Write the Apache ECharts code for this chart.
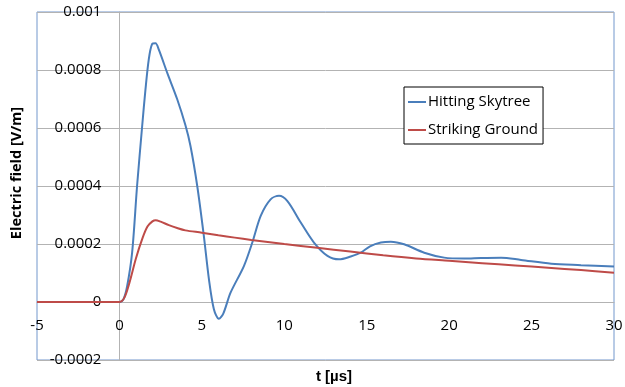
<!DOCTYPE html>
<html>
<head>
<meta charset="utf-8">
<script src="https://cdn.jsdelivr.net/npm/echarts@6/dist/echarts.min.js"></script>
<style>
  html, body { margin: 0; padding: 0; background: #fff; }
  #chart { width: 625px; height: 387px; }
</style>
</head>
<body>
<div id="chart"></div>
<script>
// Time axis in microseconds, field in V/m
const seriesNames = ['Hitting Skytree', 'Striking Ground'];

const tSkytree = [-5, 0, 0.25, 0.47, 0.77, 1.07, 1.38, 1.58, 1.78, 1.98, 2.19, 2.39, 2.9, 3.5, 4.0, 4.31, 4.72, 5.12, 5.43, 5.73, 6.03, 6.3, 6.74, 7.55, 8.06, 8.57, 9.17, 9.68, 10.19, 11.0, 11.8, 12.62, 13.32, 14.03, 14.64, 15.2, 15.86, 16.46, 17.27, 18.49, 19.7, 20.92, 21.93, 23.15, 24.36, 26.2, 28.0, 30];
const eSkytree = [0, 0, 0.00001, 0.000055, 0.00017, 0.0004, 0.000607, 0.000733, 0.000837, 0.000889, 0.000892, 0.00087, 0.00079, 0.0007, 0.00061, 0.000538, 0.0004, 0.000228, 0.000078, -0.000025, -0.000058, -0.00004, 0.000032, 0.000124, 0.000205, 0.000297, 0.000354, 0.000366, 0.000348, 0.000274, 0.000205, 0.000159, 0.000147, 0.000157, 0.00017, 0.000192, 0.000205, 0.000208, 0.000199, 0.00017, 0.000153, 0.00015, 0.000152, 0.000153, 0.000145, 0.000132, 0.000127, 0.000122];

const tGround = [-5, 0, 0.3, 0.6, 1.0, 1.4, 1.7, 2.0, 2.2, 2.5, 3.0, 3.5, 4, 5, 6, 7, 8, 9, 10, 12, 14, 16, 18, 20, 22, 24, 26, 28, 30];
const eGround = [0, 0, 0.000015, 0.000065, 0.00015, 0.00022, 0.00026, 0.000278, 0.000282, 0.000277, 0.000265, 0.000255, 0.000247, 0.000239, 0.00023, 0.000222, 0.000214, 0.000207, 0.0002, 0.000187, 0.000174, 0.000161, 0.00015, 0.000142, 0.000134, 0.000126, 0.000118, 0.00011, 0.000101];

const xTicks = [-5, 30, 5];          // min, max, interval
const yTicks = [-0.0002, 0.001, 0.0002];

const pairs = (ts, vs) => ts.map((t, i) => [t, vs[i]]);

const FONT = 'Open Sans';
const W = 625, H = 387;
const G = { left: 37, right: 11, top: 12, bottom: 27 };

// axes cross at the origin: shift each axis from the plot edge to zero
const plotW = W - G.left - G.right;
const plotH = H - G.top - G.bottom;
const yAxisShift = -(0 - xTicks[0]) / (xTicks[1] - xTicks[0]) * plotW;
const xAxisShift = -(0 - yTicks[0]) / (yTicks[1] - yTicks[0]) * plotH;

const chart = echarts.init(document.getElementById('chart'), null, { renderer: 'canvas' });

chart.setOption({
  animation: false,
  backgroundColor: '#ffffff',
  grid: {
    left: G.left, right: G.right, top: G.top, bottom: G.bottom,
    containLabel: false, outerBoundsMode: 'none',
    show: true, borderColor: '#7397cc', borderWidth: 1, backgroundColor: 'transparent'
  },
  xAxis: {
    type: 'value', position: 'bottom', offset: xAxisShift,
    min: xTicks[0], max: xTicks[1], interval: xTicks[2],
    axisLine: { onZero: false, lineStyle: { color: '#b3b3b3', width: 1 } },
    axisTick: { show: false },
    splitLine: { show: false },
    axisLabel: { color: '#000', fontFamily: FONT, fontSize: 15, margin: 16, showMinLabel: true, showMaxLabel: true }
  },
  yAxis: {
    type: 'value', position: 'left', offset: yAxisShift,
    min: yTicks[0], max: yTicks[1], interval: yTicks[2],
    axisLine: { show: true, onZero: false, lineStyle: { color: '#b3b3b3', width: 1 } },
    axisTick: { show: false },
    splitLine: { show: true, lineStyle: { color: '#b3b3b3', width: 1 } },
    axisLabel: { color: '#000', fontFamily: FONT, fontSize: 15, margin: 18, showMinLabel: true, showMaxLabel: true }
  },
  legend: {
    orient: 'vertical',
    left: 404, top: 87,
    width: 144,
    padding: [6, 5, 5, 4],
    backgroundColor: '#fff',
    borderColor: '#000', borderWidth: 1,
    itemWidth: 18, itemHeight: 2, itemGap: 10,
    icon: 'rect',
    textStyle: { color: '#000', fontFamily: FONT, fontSize: 15, lineHeight: 18, padding: [0, 0, 0, -3] },
    data: seriesNames
  },
  graphic: [
    {
      type: 'text', x: 17, y: 173, rotation: Math.PI / 2,
      style: { text: 'Electric field [V/m]', font: 'bold 14.5px "Open Sans"', fill: '#000', align: 'center', verticalAlign: 'middle' }
    },
    {
      type: 'text', x: 334, y: 377,
      style: { text: 't [µs]', font: 'bold 15px "Liberation Sans"', fill: '#000', align: 'center', verticalAlign: 'middle' }
    }
  ],
  series: [
    {
      name: seriesNames[0], type: 'line', showSymbol: false, smooth: 0.3,
      lineStyle: { color: '#4a7ebb', width: 2 }, itemStyle: { color: '#4a7ebb' },
      data: pairs(tSkytree, eSkytree)
    },
    {
      name: seriesNames[1], type: 'line', showSymbol: false, smooth: 0.3,
      lineStyle: { color: '#be4b48', width: 2 }, itemStyle: { color: '#be4b48' },
      data: pairs(tGround, eGround)
    }
  ]
});
</script>
</body>
</html>
